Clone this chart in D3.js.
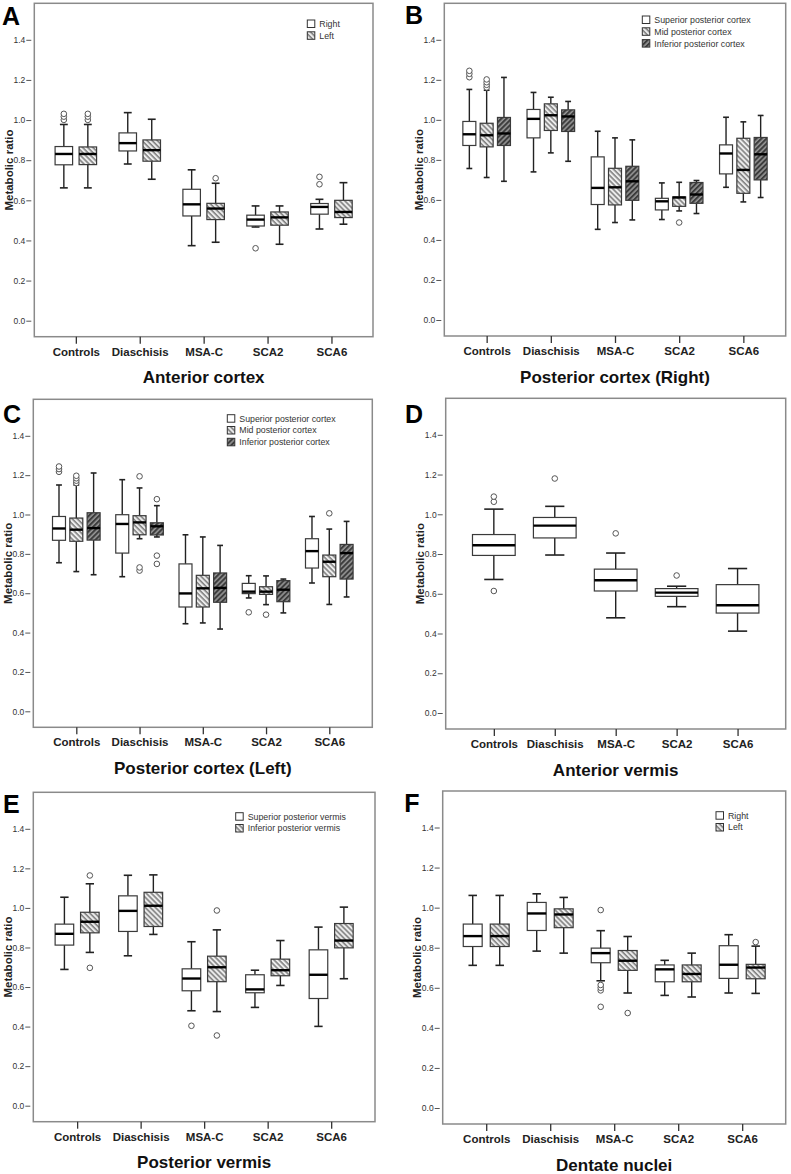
<!DOCTYPE html>
<html>
<head>
<meta charset="utf-8">
<script src="https://cdn.jsdelivr.net/npm/d3@7"></script>
<style>
  body { margin: 0; background: #fff; }
  svg text { font-family: "Liberation Sans", Arial, sans-serif; }
</style>
</head>
<body>
<svg id="chart" width="791" height="1174"></svg>
<script>
const groups = ['Controls', 'Diaschisis', 'MSA-C', 'SCA2', 'SCA6'];
const yTicks = [0.0, 0.2, 0.4, 0.6, 0.8, 1.0, 1.2, 1.4];

// box stats per group: [lower whisker, Q1, median, Q3, upper whisker]
// A - anterior cortex
const antCortexRight = [[0.662, 0.777, 0.831, 0.868, 0.978], [0.781, 0.846, 0.885, 0.936, 1.037], [0.374, 0.522, 0.580, 0.655, 0.752], [0.467, 0.472, 0.504, 0.526, 0.572], [0.457, 0.531, 0.567, 0.584, 0.605]];
const antCortexRightOut = [[1.001, 1.017, 1.031], [], [], [0.361], [0.680, 0.717]];
const antCortexLeft = [[0.662, 0.778, 0.831, 0.866, 0.978], [0.705, 0.795, 0.850, 0.901, 1.004], [0.391, 0.504, 0.559, 0.585, 0.685], [0.381, 0.476, 0.515, 0.542, 0.572], [0.481, 0.514, 0.542, 0.600, 0.688]];
const antCortexLeftOut = [[1.001, 1.017, 1.031], [], [0.710], [], []];

// B - posterior cortex (right)
const postRightSup = [[0.757, 0.872, 0.928, 0.992, 1.152], [0.740, 0.910, 1.005, 1.052, 1.137], [0.453, 0.577, 0.660, 0.815, 0.943], [0.502, 0.550, 0.593, 0.608, 0.685], [0.663, 0.730, 0.832, 0.875, 1.013]];
const postRightSupOut = [[1.213, 1.230, 1.245], [], [], [], []];
const postRightMid = [[0.712, 0.865, 0.923, 0.983, 1.148], [0.835, 0.947, 1.023, 1.080, 1.113], [0.487, 0.575, 0.663, 0.758, 0.910], [0.545, 0.568, 0.612, 0.615, 0.688], [0.590, 0.633, 0.750, 0.908, 0.990]];
const postRightMidOut = [[1.162, 1.175, 1.188, 1.202], [], [], [0.487], []];
const postRightInf = [[0.693, 0.872, 0.932, 1.012, 1.212], [0.793, 0.942, 1.017, 1.050, 1.092], [0.500, 0.598, 0.693, 0.768, 0.900], [0.532, 0.583, 0.627, 0.687, 0.697], [0.612, 0.700, 0.828, 0.912, 1.022]];
const postRightInfOut = [[], [], [], [], []];

// C - posterior cortex (left)
const postLeftSup = [[0.755, 0.869, 0.929, 0.990, 1.150], [0.684, 0.804, 0.952, 0.999, 1.177], [0.445, 0.530, 0.599, 0.749, 0.897], [0.576, 0.598, 0.608, 0.650, 0.689], [0.652, 0.728, 0.814, 0.877, 0.990]];
const postLeftSupOut = [[1.217, 1.231, 1.244], [], [], [0.503], []];
const postLeftMid = [[0.710, 0.864, 0.923, 0.982, 1.150], [0.877, 0.897, 0.960, 0.994, 1.135], [0.449, 0.530, 0.625, 0.691, 0.886], [0.542, 0.594, 0.608, 0.633, 0.688], [0.543, 0.684, 0.760, 0.794, 0.926]];
const postLeftMidOut = [[1.160, 1.172, 1.184, 1.197], [0.715, 0.731, 1.194], [], [0.491], [1.006]];
const postLeftInf = [[0.694, 0.870, 0.931, 1.009, 1.211], [0.886, 0.896, 0.940, 0.958, 1.045], [0.418, 0.554, 0.627, 0.703, 0.843], [0.500, 0.557, 0.618, 0.664, 0.672], [0.581, 0.672, 0.804, 0.848, 0.965]];
const postLeftInfOut = [[], [0.749, 0.791, 1.078], [], [], []];

// D - anterior vermis
const antVermis = [[0.672, 0.793, 0.844, 0.898, 1.026], [0.795, 0.881, 0.943, 0.984, 1.040], [0.479, 0.614, 0.668, 0.724, 0.805], [0.535, 0.587, 0.606, 0.626, 0.638], [0.412, 0.503, 0.542, 0.646, 0.727]];
const antVermisOut = [[0.614, 1.063, 1.089], [1.180], [0.904], [0.692], []];

// E - posterior vermis
const postVermisSup = [[0.689, 0.812, 0.869, 0.918, 1.054], [0.758, 0.881, 0.985, 1.061, 1.165], [0.480, 0.581, 0.643, 0.692, 0.829], [0.497, 0.571, 0.588, 0.662, 0.685], [0.401, 0.542, 0.662, 0.788, 0.903]];
const postVermisSupOut = [[], [], [0.404], [], []];
const postVermisInf = [[0.775, 0.874, 0.930, 0.978, 1.122], [0.866, 0.906, 1.011, 1.079, 1.167], [0.476, 0.627, 0.700, 0.756, 0.889], [0.608, 0.657, 0.685, 0.741, 0.835], [0.642, 0.798, 0.835, 0.921, 1.004]];
const postVermisInfOut = [[0.697, 1.164], [], [0.355, 0.987], [], []];

// F - dentate nuclei
const dentateRight = [[0.712, 0.806, 0.858, 0.918, 1.061], [0.783, 0.886, 0.971, 1.026, 1.069], [0.635, 0.725, 0.773, 0.798, 0.885], [0.562, 0.630, 0.692, 0.714, 0.737], [0.574, 0.647, 0.715, 0.810, 0.865]];
const dentateRightOut = [[], [], [0.505, 0.587, 0.600, 0.614, 0.988], [], []];
const dentateLeft = [[0.712, 0.806, 0.858, 0.918, 1.061], [0.773, 0.900, 0.966, 0.994, 1.051], [0.574, 0.687, 0.735, 0.786, 0.856], [0.554, 0.630, 0.669, 0.714, 0.773], [0.572, 0.645, 0.701, 0.717, 0.808]];
const dentateLeftOut = [[], [], [0.474], [], [0.828]];

const svg = d3.select('#chart');
const defs = svg.append('defs');

function hatch(id, bg, fg, angle) {
  const p = defs.append('pattern')
    .attr('id', id)
    .attr('patternUnits', 'userSpaceOnUse')
    .attr('width', 3.6).attr('height', 3.6)
    .attr('patternTransform', `rotate(${angle})`);
  p.append('rect').attr('width', 3.6).attr('height', 3.6).attr('fill', bg);
  p.append('line').attr('x1', 1).attr('x2', 1).attr('y1', 0).attr('y2', 3.6)
    .attr('stroke', fg).attr('stroke-width', 1.3);
}
hatch('light', '#ececec', '#6a6a6a', -45);
hatch('dark', '#3c3c3c', '#a8a8a8', 45);

const WHITE = '#fff', LIGHT = 'url(#light)', DARK = 'url(#dark)';

const panels = [
  { letter: 'A', title: 'Anterior cortex', frame: [34.3, 3.3, 373, 336.7], letterAt: [2, 25],
    pad: 0.65, gw: 41.5, ip: 0.27, legend: [-65.7, 16.7],
    series: [['Right', antCortexRight, antCortexRightOut, WHITE], ['Left', antCortexLeft, antCortexLeftOut, LIGHT]] },
  { letter: 'B', title: 'Posterior cortex (Right)', frame: [444.3, 3.3, 785.7, 336], letterAt: [405, 24],
    pad: 0.66, gw: 47.6, ip: 0.25, legend: [-143.4, 12.7],
    series: [['Superior posterior cortex', postRightSup, postRightSupOut, WHITE],
             ['Mid posterior cortex', postRightMid, postRightMidOut, LIGHT],
             ['Inferior posterior cortex', postRightInf, postRightInfOut, DARK]] },
  { letter: 'C', title: 'Posterior cortex (Left)', frame: [33.3, 399.3, 372.3, 727.3], letterAt: [3, 423],
    pad: 0.68, gw: 47.6, ip: 0.25, legend: [-145, 15.4],
    series: [['Superior posterior cortex', postLeftSup, postLeftSupOut, WHITE],
             ['Mid posterior cortex', postLeftMid, postLeftMidOut, LIGHT],
             ['Inferior posterior cortex', postLeftInf, postLeftInfOut, DARK]] },
  { letter: 'D', title: 'Anterior vermis', frame: [445.7, 398.3, 785.7, 729], letterAt: [405, 423],
    pad: 0.79, gw: 42.7, ip: 0, legend: null,
    series: [['Anterior vermis', antVermis, antVermisOut, WHITE]] },
  { letter: 'E', title: 'Posterior vermis', frame: [33.3, 792.3, 375, 1121.7], letterAt: [3, 812.7],
    pad: 0.69, gw: 44, ip: 0.27, legend: [-139.3, 20.4],
    series: [['Superior posterior vermis', postVermisSup, postVermisSupOut, WHITE],
             ['Inferior posterior vermis', postVermisInf, postVermisInfOut, LIGHT]] },
  { letter: 'F', title: 'Dentate nuclei', frame: [442.7, 791, 785.7, 1124], letterAt: [404.3, 812],
    pad: 0.68, gw: 45.9, ip: 0.3, legend: [-69.7, 20.7],
    series: [['Right', dentateRight, dentateRightOut, WHITE], ['Left', dentateLeft, dentateLeftOut, LIGHT]] }
];

panels.forEach(p => {
  const [x0, y0, x1, y1] = p.frame;
  const g = svg.append('g');

  const x = d3.scalePoint().domain(groups).range([x0, x1]).padding(p.pad);
  const y = d3.scaleLinear().domain([0, 1.4]).range([y1 - 16, y0 + 36.5]);
  const inner = d3.scaleBand().domain(d3.range(p.series.length))
    .range([-p.gw / 2, p.gw / 2]).paddingInner(p.ip).paddingOuter(0);
  const bw = inner.bandwidth();

  g.append('rect')
    .attr('x', x0).attr('y', y0).attr('width', x1 - x0).attr('height', y1 - y0)
    .attr('fill', 'none').attr('stroke', '#8a8a8a').attr('stroke-width', 1.5);

  // y axis
  const ya = g.append('g').attr('transform', `translate(${x0 - 3},0)`)
    .call(d3.axisLeft(y).tickValues(yTicks).tickFormat(d3.format('.1f')).tickSize(5).tickPadding(1));
  ya.select('.domain').remove();
  ya.selectAll('line').attr('stroke', '#555');
  ya.selectAll('text').attr('font-size', 8.5).attr('fill', '#333')
    .style('font-family', '"Liberation Sans", Arial, sans-serif');

  // x axis
  const xa = g.append('g').attr('transform', `translate(0,${y1})`)
    .call(d3.axisBottom(x).tickSize(7).tickPadding(4));
  xa.select('.domain').remove();
  xa.selectAll('line').attr('stroke', '#333').attr('stroke-width', 1.3);
  xa.selectAll('text').attr('font-size', 11.5).attr('font-weight', 'bold').attr('fill', '#222')
    .style('font-family', '"Liberation Sans", Arial, sans-serif');

  g.append('text')
    .attr('transform', `translate(${x0 - 21.5},${(y0 + y1) / 2}) rotate(-90)`)
    .attr('text-anchor', 'middle').attr('font-size', 11.5).attr('font-weight', 'bold').attr('fill', '#222')
    .text('Metabolic ratio');

  g.append('text')
    .attr('x', (x0 + x1) / 2).attr('y', y1 + 46.5)
    .attr('text-anchor', 'middle').attr('font-size', 17).attr('font-weight', 'bold').attr('fill', '#111')
    .text(p.title);

  g.append('text')
    .attr('x', p.letterAt[0]).attr('y', p.letterAt[1])
    .attr('font-size', 25).attr('font-weight', 'bold').attr('fill', '#000')
    .text(p.letter);

  // boxes
  p.series.forEach(([name, stats, outs, fill], si) => {
    stats.forEach((s, gi) => {
      const cx = x(groups[gi]) + inner(si) + bw / 2;
      const [lo, q1, med, q3, hi] = s;
      const cap = bw * 0.45;
      const b = g.append('g');
      b.append('line').attr('x1', cx).attr('x2', cx).attr('y1', y(hi)).attr('y2', y(q3))
        .attr('stroke', '#222').attr('stroke-width', 1.4);
      b.append('line').attr('x1', cx).attr('x2', cx).attr('y1', y(q1)).attr('y2', y(lo))
        .attr('stroke', '#222').attr('stroke-width', 1.4);
      [hi, lo].forEach(v => b.append('line')
        .attr('x1', cx - cap / 2).attr('x2', cx + cap / 2).attr('y1', y(v)).attr('y2', y(v))
        .attr('stroke', '#222').attr('stroke-width', 1.6));
      b.append('rect')
        .attr('x', cx - bw / 2).attr('y', y(q3)).attr('width', bw).attr('height', y(q1) - y(q3))
        .attr('fill', fill).attr('stroke', '#3a3a3a').attr('stroke-width', 1.2);
      b.append('line').attr('x1', cx - bw / 2).attr('x2', cx + bw / 2).attr('y1', y(med)).attr('y2', y(med))
        .attr('stroke', '#000').attr('stroke-width', 2.4);
      outs[gi].forEach(v => b.append('circle')
        .attr('cx', cx).attr('cy', y(v)).attr('r', 2.8)
        .attr('fill', '#fff').attr('stroke', '#555').attr('stroke-width', 1));
    });
  });

  // legend
  if (p.legend) {
    const lg = g.append('g').attr('transform', `translate(${x1 + p.legend[0]},${y0 + p.legend[1]})`);
    p.series.forEach(([name, , , fill], i) => {
      lg.append('rect').attr('x', 0).attr('y', i * 11.8).attr('width', 7.5).attr('height', 7.5)
        .attr('fill', fill).attr('stroke', '#333').attr('stroke-width', 1);
      lg.append('text').attr('x', 12).attr('y', i * 11.8 + 7)
        .attr('font-size', 8.8).attr('fill', '#333').text(name);
    });
  }
});
</script>
</body>
</html>
